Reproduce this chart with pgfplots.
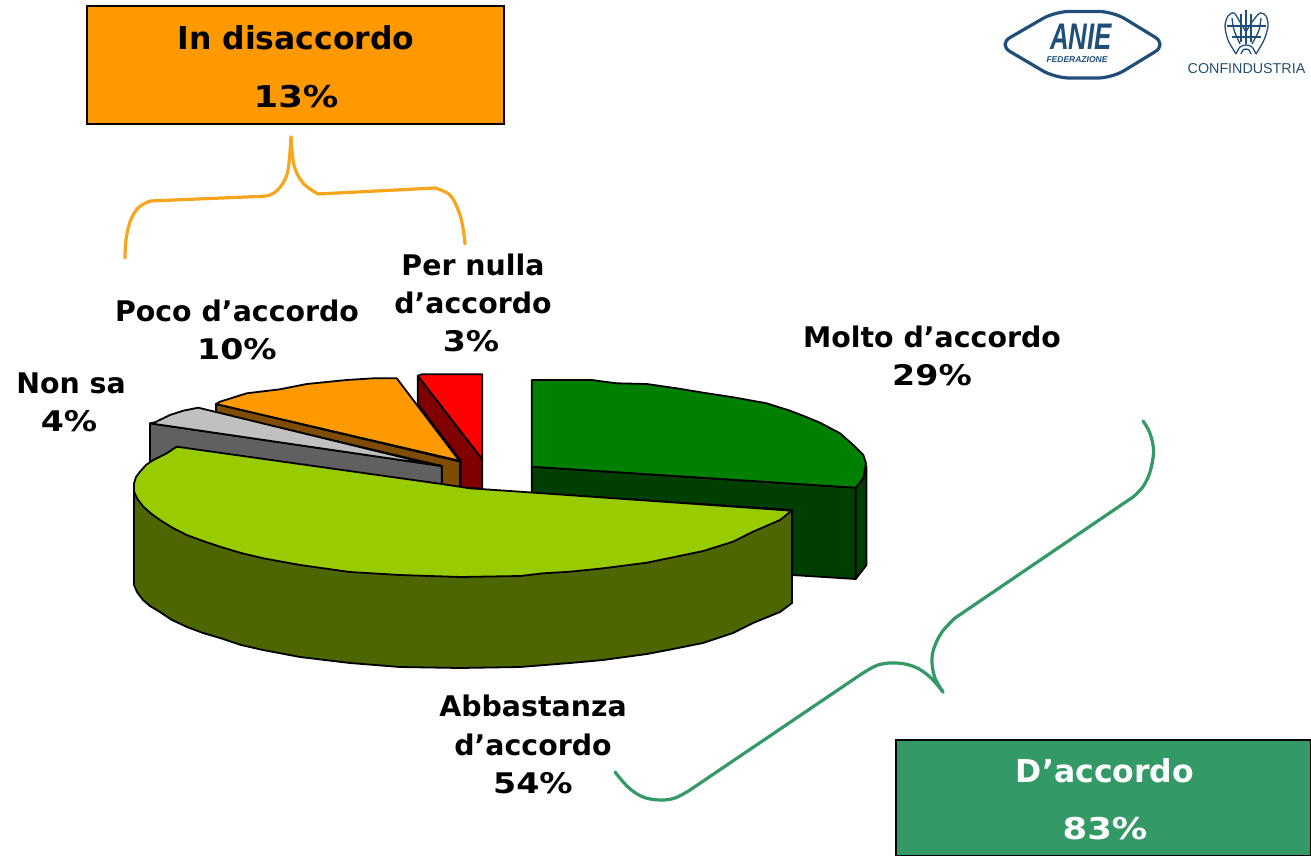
\documentclass[border=0pt]{standalone}
\usepackage{pgfplots}
\pgfplotsset{compat=1.18}
\usepackage{fontspec}
\setmainfont{DejaVu Sans}
\newfontfamily\lib{Liberation Sans}
\definecolor{cOrange}{HTML}{FF9900}
\definecolor{cBrack}{HTML}{F7A51C}
\definecolor{cSea}{HTML}{339966}
\definecolor{cNavy}{HTML}{1F4E79}
\newcommand{\lab}[1]{{\fontsize{28.4}{32}\bfseries\selectfont #1}}
\newcommand{\pct}[1]{{\fontsize{28.4}{32}\bfseries\selectfont\scalebox{1.17}[1]{#1}}}
\newcommand{\boxlab}[1]{{\fontsize{31.5}{35}\bfseries\selectfont #1}}
\newcommand{\boxpct}[1]{{\fontsize{30}{35}\bfseries\selectfont\scalebox{1.18}[1]{#1}}}
\begin{document}
\begin{tikzpicture}
\begin{axis}[scale only axis,width=1311pt,height=856pt,xmin=0,xmax=1311,ymin=0,ymax=856,y dir=reverse,hide axis,clip=false,
  pieline/.style={draw=black,line width=1.8pt,line join=round},
  oarc/.style={cBrack,line width=3.2pt,line cap=round,smooth,tension=0.6},
  garc/.style={cSea,line width=3.2pt,line cap=round,smooth,tension=0.6}]
\path[use as bounding box] (0,0) rectangle (1311,856);
% boxes
\addplot[fill=cOrange,draw=black,line width=1.3pt] coordinates {(87,6)(504,6)(504,124)(87,124)} --cycle;
\addplot[fill=cSea,draw=black,line width=1.3pt] coordinates {(896,740)(1311,740)(1311,856)(896,856)} --cycle;
% brackets
\addplot[oarc] coordinates {(125,258)(126,240)(130,222)(138,208)(150,201)};
\addplot[oarc] coordinates {(150,201)(255,196.6)};
\addplot[oarc] coordinates {(255,196.6)(270,195)(281,186)(288,170)(291,137)};
\addplot[oarc] coordinates {(291,137)(294,165)(303,183)(318,194)};
\addplot[oarc] coordinates {(318,194)(435,188)};
\addplot[oarc] coordinates {(435,188)(450,195)(459,212)(463,228)(465,244)};
\addplot[garc] coordinates {(1143,421)(1149,431)(1153,445)(1153,458)(1149,475)(1142,488)(1133,497)};
\addplot[garc] coordinates {(1133,497)(955,618)};
\addplot[garc] coordinates {(955,618)(942,632)(934,648)(932,662)(935,678)(943,692)};
\addplot[garc] coordinates {(943,692)(930,677)(915,667)(897,663)(878,665)(860,675)};
\addplot[garc] coordinates {(860,675)(690,790)};
\addplot[garc] coordinates {(690,790)(675,798)(660,800)(643,797)(628,787)(615,772)};
% dark green slice
\addplot[fill={rgb,255:red,0;green,63;blue,0},pieline] coordinates {(531.7,466.7)(855.7,487.7)(855.7,579)(792,575)(792,510)(531.7,493)} --cycle;
\addplot[fill={rgb,255:red,0;green,63;blue,0},pieline] coordinates {(855.7,487.7)(863.3,478.3)(866.5,466)(866.5,565)(855.7,579)} --cycle;
\addplot[fill={rgb,255:red,0;green,128;blue,0},pieline] coordinates {(531.7,380)(591.7,380)(616.7,383.3)(646.7,384)(676.7,388.3)(703.3,392.7)(733.3,397.3)(766.7,403.3)(790,410.7)(805,416.5)(820,422.7)(840,433.3)(853.3,445)(863.3,455)(866,463.3)(863.3,478.3)(855.7,487.7)(531.7,466.7)} --cycle;
% red slice
\addplot[fill={rgb,255:red,128;green,0;blue,0},pieline] coordinates {(417.7,375.7)(482.3,459.3)(482.3,488.5)(460.7,488)(460.7,461)(417.7,404)} --cycle;
\addplot[fill=red,pieline] coordinates {(417.7,375.7)(421.7,374.3)(482.3,374.3)(482.3,459.3)} --cycle;
% orange slice
\addplot[fill={rgb,255:red,128;green,77;blue,0},pieline] coordinates {(216,404)(460,461.7)(460,487.5)(441.7,485)(441.7,466)(216,412.7)} --cycle;
\addplot[fill=cOrange,pieline] coordinates {(216,404)(220,401.7)(246.7,393.3)(280,389.3)(306.7,384)(346.7,380)(373.3,378.3)(396.7,378.3)(459.3,460.7)} --cycle;
% grey slice
\addplot[fill={rgb,255:red,96;green,96;blue,96},pieline] coordinates {(150,423.3)(441.7,466)(441.7,486)(150,465)} --cycle;
\addplot[fill={rgb,255:red,192;green,192;blue,192},pieline] coordinates {(150,423.3)(155,422.3)(170,415)(183.3,410.7)(198.3,407.7)(420,461.7)(441.7,466)} --cycle;
% light green slice
\addplot[fill={rgb,255:red,77;green,102;blue,0},pieline] coordinates {(134,491.7)(134,585)(137,592)(143,600)(150,606)(160,612)(172,620)(187,627)(203,633)(220,638)(241,645)(263,650)(300,657)(350,663)(400,667)(460,668)(520,667)(570,663)(603,660)(647,654)(673,649)(703,643)(733,633)(753,623)(780,612)(792,603)(792,510.7)} --cycle;
\addplot[fill={rgb,255:red,153;green,204;blue,0},pieline] coordinates {(176.7,446.7)(166.7,453.3)(153.3,460)(146,465)(140,471.7)(136,477)(134,483.3)(134,491.7)(137.5,499)(143.3,506.7)(151,513.5)(160,520)(172,527.5)(186.7,535)(203,541)(220,546.7)(241,553)(263.3,558.3)(300,565)(350,572)(400,575)(460,577)(520,576)(543.3,573.3)(570,571.7)(603.3,568.3)(646.7,562.7)(673,557.3)(703.3,551)(733,541.7)(753,531.7)(780,520)(791.7,510.7)(520,491.7)(470,488.3)(441.7,484)} --cycle;
% labels
\node at (296,38) {\boxlab{In disaccordo}};
\node at (296,97) {\boxpct{13\%}};
\node[white] at (1105,771) {\boxlab{D’accordo}};
\node[white] at (1105,829) {\boxpct{83\%}};
\node at (473,265) {\lab{Per nulla}};
\node at (473,303) {\lab{d’accordo}};
\node at (471,341) {\pct{3\%}};
\node at (237,311) {\lab{Poco d’accordo}};
\node at (237,349) {\pct{10\%}};
\node at (71,383) {\lab{Non sa}};
\node at (69,421) {\pct{4\%}};
\node at (932,337) {\lab{Molto d’accordo}};
\node at (932,375) {\pct{29\%}};
\node at (533,706) {\lab{Abbastanza}};
\node at (533,745) {\lab{d’accordo}};
\node at (533,783) {\pct{54\%}};
% ANIE logo
\addplot[cNavy,line width=3.2pt,rounded corners=14pt] coordinates {(998,44.5)(1055,11.5)(1113,11.5)(1167,44.5)(1112,78)(1055,78)} --cycle;
\node[cNavy,xscale=.7,inner sep=0] at (1081,37) {\lib\fontsize{37}{38}\bfseries\itshape\selectfont ANIE};
\node[cNavy,inner sep=0] at (1077,60) {\lib\fontsize{8.5}{9}\bfseries\itshape\selectfont FEDERAZIONE};
% Confindustria logo
\node[cNavy,inner sep=0] at (1246.5,68.5) {\lib\fontsize{14.3}{15}\selectfont CONFINDUSTRIA};
\addplot[cNavy,line width=1.3pt,smooth] coordinates {(1246,32)(1240,22)(1234,13)(1228,16)(1225,26)(1228,40)(1236,54)};
\addplot[cNavy,line width=1.3pt,smooth] coordinates {(1246,32)(1252,22)(1260,13)(1266,16)(1268,26)(1264,40)(1256,54)};
\addplot[cNavy,line width=1.3pt,smooth] coordinates {(1232,18)(1234,30)(1240,44)};
\addplot[cNavy,line width=1.3pt,smooth] coordinates {(1261,18)(1259,30)(1252,44)};
\addplot[cNavy,line width=1.3pt] coordinates {(1241,14)(1241,42)};
\addplot[cNavy,line width=1.3pt] coordinates {(1251,14)(1251,42)};
\addplot[cNavy,line width=1.3pt] coordinates {(1246,10)(1246,44)};
\addplot[cNavy,line width=1.3pt] coordinates {(1227,26)(1266,26)};
\addplot[cNavy,line width=1.3pt] coordinates {(1232,37)(1261,37)};
\addplot[cNavy,line width=1.3pt,smooth] coordinates {(1236,54)(1240,47)(1246,45)(1252,47)(1256,54)};
\addplot[cNavy,line width=1.3pt,smooth] coordinates {(1241,54)(1243,50)(1246,49)(1249,50)(1251,54)};
\end{axis}
\end{tikzpicture}
\end{document}
